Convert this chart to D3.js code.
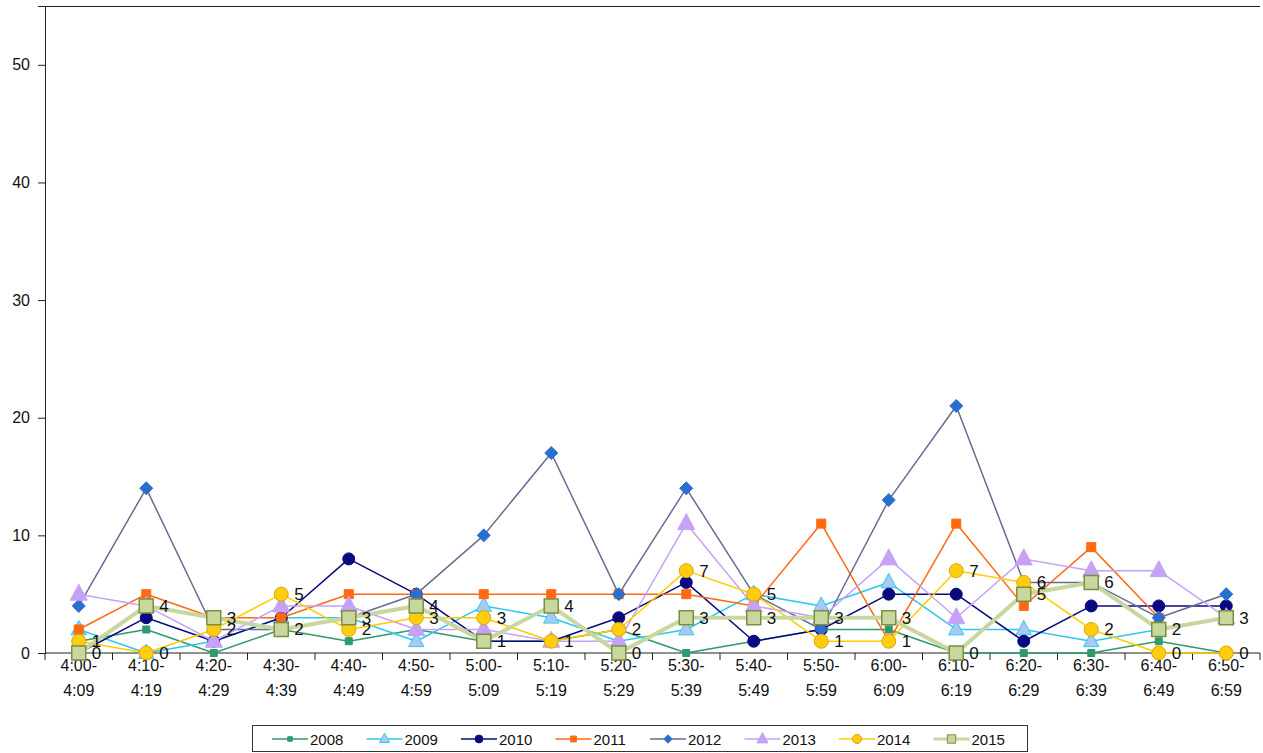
<!DOCTYPE html>
<html>
<head>
<meta charset="utf-8">
<script src="https://cdn.jsdelivr.net/npm/d3@7"></script>
<style>
  html, body { margin: 0; padding: 0; background: #fff; }
  svg { display: block; font-family: "Liberation Sans", Arial, sans-serif; }
</style>
</head>
<body>
<svg id="chart" width="1263" height="753"></svg>
<script>
// Time slots (10-minute bins) on the x axis
const slotStart = ["4:00","4:10","4:20","4:30","4:40","4:50","5:00","5:10","5:20","5:30","5:40","5:50","6:00","6:10","6:20","6:30","6:40","6:50"];
const slotEnd   = ["4:09","4:19","4:29","4:39","4:49","4:59","5:09","5:19","5:29","5:39","5:49","5:59","6:09","6:19","6:29","6:39","6:49","6:59"];
const yTicks = [0, 10, 20, 30, 40, 50];

// Counts per year
const years = ["2008","2009","2010","2011","2012","2013","2014","2015"];
const v2008 = [1, 2, 0, 2, 1, 2, 1, 1, 2, 0, 1, 2, 2, 0, 0, 0, 1, 0];
const v2009 = [2, 0, 1, 3, 3, 1, 4, 3, 1, 2, 5, 4, 6, 2, 2, 1, 2, null];
const v2010 = [0, 3, 1, 3, 8, 5, 1, 1, 3, 6, 1, 2, 5, 5, 1, 4, 4, 4];
const v2011 = [2, 5, 3, 3, 5, 5, 5, 5, 5, 5, 4, 11, 1, 11, 4, 9, 3, null];
const v2012 = [4, 14, 2, 2, 3, 5, 10, 17, 5, 14, 5, 2, 13, 21, 6, 6, 3, 5];
const v2013 = [5, 4, 1, 4, 4, 2, 2, 1, 1, 11, 4, 3, 8, 3, 8, 7, 7, 3];
const v2014 = [1, 0, 2, 5, 2, 3, 3, 1, 2, 7, 5, 1, 1, 7, 6, 2, 0, 0];
const v2015 = [0, 4, 3, 2, 3, 4, 1, 4, 0, 3, 3, 3, 3, 0, 5, 6, 2, 3];
const seriesValues = [v2008, v2009, v2010, v2011, v2012, v2013, v2014, v2015];
const labelledYears = ["2014", "2015"];

// Per-series look: line colour/width, marker shape, fill, outline, size
const styles = {
  "2008": { line: "#2f9a6c", width: 1.5, shape: "square",   fill: "#2f9a6c", stroke: "#2f9a6c", size: 7 },
  "2009": { line: "#2cc8f0", width: 1.5, shape: "triangle", fill: "#a9c8f2", stroke: "#2cc8f0", size: 9 },
  "2010": { line: "#0a0a80", width: 1.5, shape: "circle",   fill: "#0a0a80", stroke: "#0a0a80", size: 6 },
  "2011": { line: "#ff6a10", width: 1.5, shape: "square",   fill: "#ff6a10", stroke: "#ff6a10", size: 9 },
  "2012": { line: "#6a6a94", width: 1.5, shape: "diamond",  fill: "#2a6ed0", stroke: "#2a6ed0", size: 6.5 },
  "2013": { line: "#c6a2f6", width: 1.5, shape: "triangle", fill: "#c6a2f6", stroke: "#c6a2f6", size: 10 },
  "2014": { line: "#ffcc00", width: 1.5, shape: "circle",   fill: "#ffcc11", stroke: "#d9a800", size: 7 },
  "2015": { line: "#c7d79e", width: 4,   shape: "square",   fill: "#c7d79e", stroke: "#7c8f3c", size: 14 }
};

const svg = d3.select("#chart");
const plot = { left: 45, top: 6, right: 1260, bottom: 653 };

const x = d3.scaleBand().domain(slotStart).range([plot.left, plot.right]);
const y = d3.scaleLinear().domain([0, 55]).range([plot.bottom, plot.top]);
const cx = s => x(s) + x.bandwidth() / 2;

// Plot frame (top and left edges)
svg.append("line").attr("x1", plot.left).attr("x2", plot.right)
  .attr("y1", plot.top + 0.5).attr("y2", plot.top + 0.5).attr("stroke", "#222");

// Y axis
const yAxis = svg.append("g")
  .attr("transform", `translate(${plot.left},0)`)
  .call(d3.axisLeft(y).tickValues(yTicks).tickSize(7).tickPadding(8));
yAxis.select(".domain").attr("stroke", "#222");
yAxis.selectAll(".tick line").attr("stroke", "#222");
yAxis.selectAll(".tick text").attr("font-size", 16).attr("fill", "#111")
  .attr("font-family", "'Liberation Sans', Arial, sans-serif");

// X axis with tick marks on band boundaries
const xAxisG = svg.append("g").attr("transform", `translate(0,${plot.bottom})`);
xAxisG.append("line").attr("x1", plot.left).attr("x2", plot.right)
  .attr("y1", 0).attr("y2", 0).attr("stroke", "#222");
xAxisG.selectAll("line.tk").data(slotStart.concat(["end"])).enter().append("line")
  .attr("class", "tk")
  .attr("x1", (d, i) => i < slotStart.length ? x(d) : plot.right)
  .attr("x2", (d, i) => i < slotStart.length ? x(d) : plot.right)
  .attr("y1", 0).attr("y2", 7).attr("stroke", "#222");
const xl = xAxisG.selectAll("text.xl").data(slotStart).enter().append("text")
  .attr("class", "xl")
  .attr("x", d => cx(d))
  .attr("text-anchor", "middle")
  .attr("font-size", 16).attr("fill", "#111");
xl.append("tspan").attr("x", d => cx(d)).attr("y", 18).text(d => d + "-");
xl.append("tspan").attr("x", d => cx(d)).attr("y", 43).text((d, i) => slotEnd[i]);

// Marker drawing
function markerPath(st) {
  const s = st.size;
  if (st.shape === "diamond") {
    return `M0,${-s}L${s},0L0,${s}L${-s},0Z`;
  }
  if (st.shape === "square") {
    return `M${-s / 2},${-s / 2}h${s}v${s}h${-s}Z`;
  }
  if (st.shape === "circle") {
    return d3.symbol().type(d3.symbolCircle).size(Math.PI * s * s)();
  }
  // triangle
  return `M0,${-s}L${s * 0.85},${s * 0.6}L${-s * 0.85},${s * 0.6}Z`;
}

const line = d3.line()
  .defined(d => d.v !== null)
  .x(d => cx(d.slot))
  .y(d => y(d.v));

const seriesG = svg.append("g");
years.forEach((yr, k) => {
  const st = styles[yr];
  const pts = slotStart.map((s, i) => ({ slot: s, v: seriesValues[k][i] }));
  const g = seriesG.append("g");
  g.append("path").datum(pts)
    .attr("d", line)
    .attr("fill", "none")
    .attr("stroke", st.line)
    .attr("stroke-width", st.width)
    .attr("stroke-linejoin", "round");
  g.selectAll("path.m").data(pts.filter(p => p.v !== null)).enter().append("path")
    .attr("class", "m")
    .attr("d", markerPath(st))
    .attr("transform", d => `translate(${cx(d.slot)},${y(d.v)})`)
    .attr("fill", st.fill)
    .attr("stroke", st.stroke)
    .attr("stroke-width", yr === "2015" ? 1.5 : 1);
});

// Value labels for the two most recent years
const labelG = svg.append("g");
labelledYears.forEach(yr => {
  const k = years.indexOf(yr);
  const pts = slotStart.map((s, i) => ({ slot: s, v: seriesValues[k][i] }));
  labelG.selectAll(null).data(pts).enter().append("text")
    .attr("x", d => cx(d.slot) + 13)
    .attr("y", d => y(d.v) + 6)
    .attr("font-size", 17).attr("fill", "#111")
    .text(d => d.v);
});

// Legend
const legend = svg.append("g");
legend.append("rect").attr("x", 252.5).attr("y", 725.5).attr("width", 775).attr("height", 26)
  .attr("fill", "#fff").attr("stroke", "#333").attr("stroke-width", 1);
const legX0 = 272, legStep = 94.5, legY = 739;
years.forEach((yr, k) => {
  const st = styles[yr];
  const gx = legX0 + k * legStep;
  const g = legend.append("g");
  g.append("line").attr("x1", gx).attr("x2", gx + 36).attr("y1", legY).attr("y2", legY)
    .attr("stroke", st.line).attr("stroke-width", yr === "2015" ? 3 : 1.5);
  const small = Object.assign({}, st, { size: st.size * (yr === "2015" ? 0.6 : 0.65) });
  g.append("path").attr("d", markerPath(small))
    .attr("transform", `translate(${gx + 18},${legY})`)
    .attr("fill", st.fill).attr("stroke", st.stroke).attr("stroke-width", 1);
  g.append("text").attr("x", gx + 38).attr("y", legY + 5.5)
    .attr("font-size", 15).attr("fill", "#111").text(yr);
});
</script>
</body>
</html>
